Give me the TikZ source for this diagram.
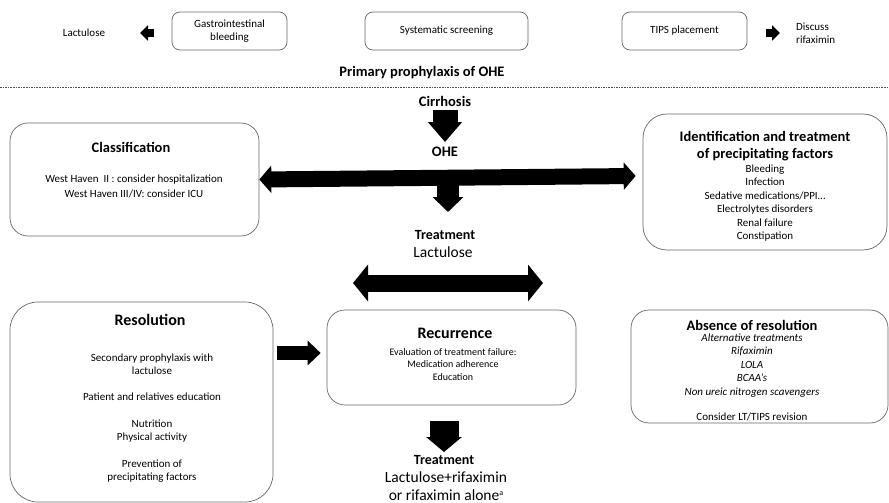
\documentclass[tikz,border=0pt]{standalone}
\usepackage{fontspec}
\setmainfont{Carlito}
\usetikzlibrary{arrows.meta,fit}
\begin{document}
\begin{tikzpicture}[x=1pt,y=-1pt,
  rbox/.style={draw=black!60, line width=0.7pt, rounded corners=#1, inner sep=0pt},
  txt/.style={inner sep=0pt, align=center, font=\fontsize{11}{13.4}\selectfont},
  stxt/.style={inner sep=0pt, align=center, font=\fontsize{10}{12.8}\selectfont},
  ttl/.style={inner sep=0pt, align=center, font=\fontsize{#1}{17}\selectfont\bfseries},
  big/.style={inner sep=0pt, align=center, font=\fontsize{15.5}{18}\selectfont},
  fat/.style={draw=black, line width=#1},
]
\useasboundingbox (0,0) rectangle (889,503);

% ---------- top row ----------
\node[txt] (lac0) at (84,33) {Lactulose};
\node[rbox=8pt, fit={(172,12) (287,50)}] (gib) {};
\node[txt] at (gib.center) (gibt) {Gastrointestinal\\bleeding};
\node[rbox=8pt, fit={(365,12) (528,50)}] (ss) {};
\node[txt] at (ss.center) (sst) {Systematic screening};
\node[rbox=8pt, fit={(622,12) (747,50)}] (tips) {};
\node[txt] at (tips.center) (tipst) {TIPS placement};
\node[txt, align=left, anchor=west] (disc) at (796,33.5) {Discuss\\rifaximin};
\coordinate (la1) at (154,33);
\coordinate (la2) at (140,33);
\draw[fat=8pt, -{Triangle[width=15pt,length=8pt]}] (la1) -- (la2);
\coordinate (ra1) at (766,33);
\coordinate (ra2) at (780,33);
\draw[fat=8pt, -{Triangle[width=15pt,length=8pt]}] (ra1) -- (ra2);

\node[ttl=14.5] (prim) at (422,73) {Primary prophylaxis of OHE};
\coordinate (dl) at (0,87);
\coordinate (dr) at (889,87);
\draw[black!70, line width=0.6pt, dash pattern=on 1.6pt off 1pt] (dl) -- (dr);

% ---------- centre column ----------
\node[ttl=14.5] (cirr) at (445,101) {Cirrhosis};
\node[ttl=14.5] (ohe) at (445,152) {OHE};
\coordinate (c1) at (445,110);
\coordinate (c2) at (445,142);
\draw[fat=25pt, -{Triangle[width=33pt,length=20pt]}] (c1) -- (c2);

\node[rbox=18pt, fit={(10,123) (259,236)}] (class) {};
\node[ttl=14.5] (classt) at (131,147) {Classification};
\node[txt, font=\fontsize{11}{15}\selectfont] (classl) at (134,186) {West Haven\ \ II : consider hospitalization\\West Haven III/IV: consider ICU};

\node[rbox=24pt, fit={(643,114) (887,250)}] (ident) {};
\node[ttl=14.5] (identt) at (765,146) {Identification and treatment\\of precipitating factors};
\node[txt] (identl) at (765,203) {Bleeding\\Infection\\Sedative medications/PPI…\\Electrolytes disorders\\Renal failure\\Constipation};

\draw[fat=16pt, {Triangle[width=27pt,length=12pt]}-{Triangle[width=27pt,length=12pt]}]
  (class.east) -- ([xshift=-7pt]ident.west |- 0,176);

\coordinate (d1) at (448,180);
\coordinate (d2) at (448,212);
\draw[fat=22pt, -{Triangle[width=30pt,length=15pt]}] (d1) -- (d2);

\node[ttl=14] (treat1) at (445,235) {Treatment};
\node[big] (lac1) at (443,252) {Lactulose};

\coordinate (h1) at (353,283);
\coordinate (h2) at (543,283);
\draw[fat=17pt, {Triangle[width=36pt,length=15pt]}-{Triangle[width=36pt,length=15pt]}] (h1) -- (h2);

% ---------- bottom row ----------
\node[rbox=28pt, fit={(10,302) (273,502)}] (res) {};
\node[ttl=16] (rest) at (150,320) {Resolution};
\node[txt] (resl1) at (152,364) {Secondary prophylaxis with\\lactulose};
\node[txt] (resl2) at (152,397) {Patient and relatives education};
\node[txt] (resl3) at (152,431) {Nutrition\\Physical activity};
\node[txt] (resl4) at (152,471) {Prevention of\\precipitating factors};

\node[rbox=18pt, fit={(327,310) (576,405)}] (rec) {};
\node[ttl=16] (rect) at (455,333) {Recurrence};
\node[stxt] (recl) at (453,364.5) {Evaluation of treatment failure:\\Medication adherence\\Education};

\coordinate (r1) at (277,353);
\draw[fat=14pt, -{Triangle[width=24pt,length=13pt]}] (r1) -- ([xshift=-6pt]rec.west |- r1);

\node[rbox=18pt, fit={(631,310) (888,423)}] (abs) {};
\node[ttl=14.5] (abst) at (752,325) {Absence of resolution};
\node[txt, font=\fontsize{11}{13.5}\selectfont\itshape] (absl) at (752,365.5) {Alternative treatments\\Rifaximin\\LOLA\\BCAA’s\\Non ureic nitrogen scavengers};
\node[txt] (absc) at (752,417) {Consider LT/TIPS revision};

\coordinate (b1) at (444,421);
\coordinate (b2) at (444,452);
\draw[fat=29pt, -{Triangle[width=35pt,length=15pt]}] (b1) -- (b2);

\node[ttl=14] (treat2) at (444,460.5) {Treatment};
\node[big] (lac2) at (446,486.5) {Lactulose+rifaximin\\or rifaximin alone\raisebox{5.5pt}{\fontsize{8}{8}\selectfont a}};
\end{tikzpicture}
\end{document}
